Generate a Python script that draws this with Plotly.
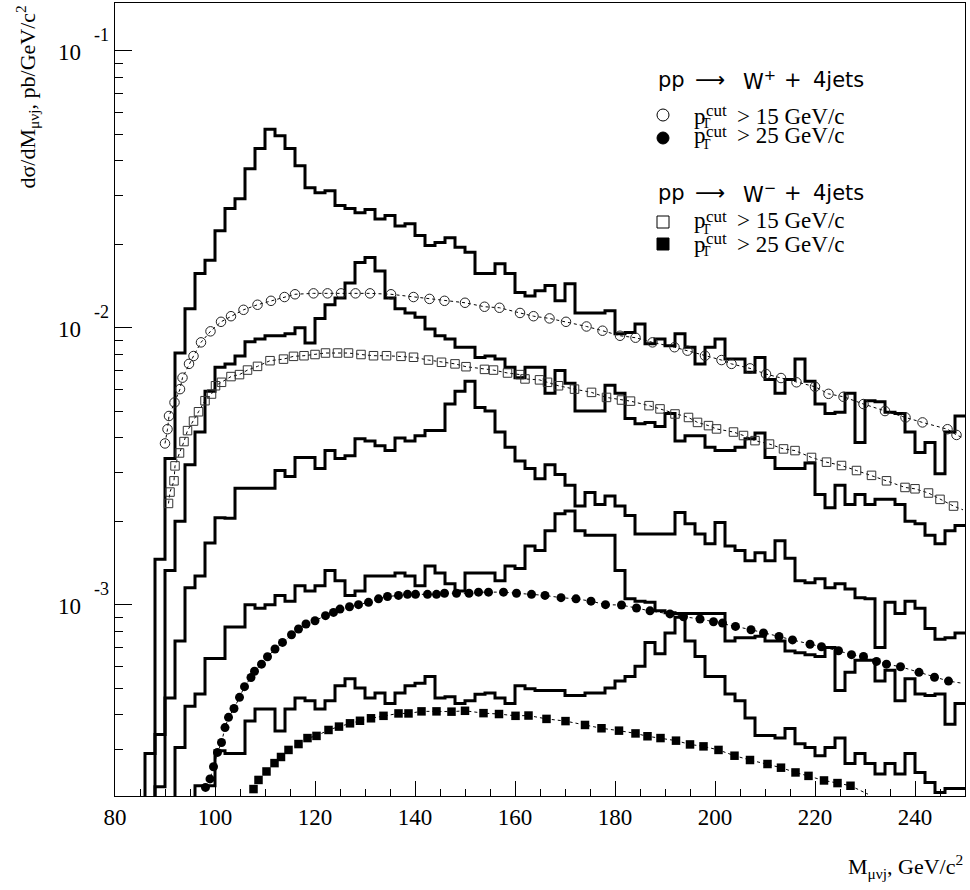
import numpy as np
import plotly.graph_objects as go

# ---------------- data ----------------
bin_edges = list(range(80, 252, 2))  # 2 GeV bins from 80 to 250

hist1 = [0, 0, 0, 2.9e-4, 1.46e-3, 3.37e-3, 8.1e-3, 1.17e-2, 1.57e-2, 1.75e-2,
         2.24e-2, 2.69e-2, 2.92e-2, 3.75e-2, 4.43e-2, 5.2e-2, 4.93e-2, 4.43e-2, 3.84e-2, 3.2e-2,
         3.07e-2, 3.12e-2, 2.76e-2, 2.69e-2, 2.6e-2, 2.67e-2, 2.47e-2, 2.54e-2, 2.33e-2, 2.37e-2,
         2.15e-2, 1.98e-2, 2.03e-2, 2.11e-2, 1.95e-2, 1.87e-2, 1.57e-2, 1.57e-2, 1.70e-2, 1.57e-2,
         1.34e-2, 1.30e-2, 1.36e-2, 1.42e-2, 1.25e-2, 1.44e-2, 1.13e-2, 1.13e-2, 1.13e-2, 1.15e-2,
         9.5e-3, 9.6e-3, 1.03e-2, 8.75e-3, 9.1e-3, 8.6e-3, 9.5e-3, 8.5e-3, 7.4e-3, 8.5e-3,
         9.1e-3, 7.7e-3, 7.7e-3, 6.9e-3, 7.8e-3, 6.5e-3, 5.8e-3, 6.5e-3, 7.7e-3, 6.4e-3,
         5.3e-3, 4.9e-3, 4.95e-3, 5.8e-3, 3.85e-3, 5.45e-3, 5.4e-3, 4.95e-3, 4.9e-3, 4.2e-3,
         3.54e-3, 3.85e-3, 2.97e-3, 4.2e-3, 4.8e-3]

hist2 = [0, 0, 0, 0, 2.2e-4, 1.33e-3, 2.0e-3, 3.2e-3, 4.2e-3, 5.9e-3,
         7.2e-3, 7.4e-3, 7.9e-3, 8.9e-3, 9.1e-3, 9.35e-3, 9.35e-3, 9.5e-3, 1.0e-2, 8.8e-3,
         1.08e-2, 1.21e-2, 1.28e-2, 1.45e-2, 1.72e-2, 1.79e-2, 1.6e-2, 1.28e-2, 1.17e-2, 1.13e-2,
         1.09e-2, 9.9e-3, 9.35e-3, 9.1e-3, 8.5e-3, 8.5e-3, 7.8e-3, 7.9e-3, 7.7e-3, 7.2e-3,
         6.6e-3, 7.2e-3, 7.2e-3, 5.8e-3, 7.0e-3, 6.3e-3, 5.0e-3, 5.0e-3, 5.0e-3, 6.2e-3,
         5.8e-3, 4.7e-3, 4.5e-3, 4.55e-3, 4.4e-3, 4.9e-3, 3.9e-3, 4.07e-3, 4.07e-3, 3.7e-3,
         3.6e-3, 3.6e-3, 3.7e-3, 3.97e-3, 4.17e-3, 3.4e-3, 3.1e-3, 3.1e-3, 3.1e-3, 3.25e-3,
         2.5e-3, 2.24e-3, 2.7e-3, 2.3e-3, 2.5e-3, 2.3e-3, 2.4e-3, 2.4e-3, 2.3e-3, 2.0e-3,
         1.96e-3, 1.78e-3, 1.66e-3, 1.85e-3, 1.93e-3]

hist3 = [0, 0, 0, 0, 3.4e-4, 4.6e-4, 7.4e-4, 1.15e-3, 1.27e-3, 1.67e-3,
         2.06e-3, 2.05e-3, 2.63e-3, 2.63e-3, 2.63e-3, 2.63e-3, 3.05e-3, 2.9e-3, 3.4e-3, 3.4e-3,
         3.1e-3, 3.6e-3, 3.37e-3, 3.45e-3, 3.97e-3, 3.9e-3, 3.75e-3, 3.6e-3, 4.0e-3, 3.9e-3,
         4.07e-3, 4.25e-3, 4.25e-3, 5.3e-3, 5.9e-3, 6.4e-3, 5.15e-3, 5.0e-3, 4.2e-3, 3.7e-3,
         3.3e-3, 3.1e-3, 2.85e-3, 3.2e-3, 2.95e-3, 2.7e-3, 2.27e-3, 2.54e-3, 2.3e-3, 2.47e-3,
         2.27e-3, 2.1e-3, 1.8e-3, 1.8e-3, 1.8e-3, 1.8e-3, 2.15e-3, 1.96e-3, 1.8e-3, 1.66e-3,
         1.98e-3, 1.63e-3, 1.57e-3, 1.44e-3, 1.54e-3, 1.44e-3, 1.7e-3, 1.47e-3, 1.22e-3, 1.2e-3,
         1.24e-3, 1.15e-3, 1.19e-3, 1.14e-3, 1.06e-3, 1.05e-3, 7.0e-4, 1.02e-3, 9.3e-4, 1.03e-3,
         9.7e-4, 8.2e-4, 7.5e-4, 7.6e-4, 7.9e-4]

hist4 = [0, 0, 0, 0, 0, 0, 3.05e-4, 4.3e-4, 4.76e-4, 6.4e-4,
         6.4e-4, 8.3e-4, 8.3e-4, 1.0e-3, 9.7e-4, 1.0e-3, 1.08e-3, 1.03e-3, 1.17e-3, 1.12e-3,
         1.17e-3, 1.33e-3, 1.22e-3, 1.08e-3, 1.12e-3, 1.27e-3, 1.27e-3, 1.27e-3, 1.3e-3, 1.27e-3,
         1.17e-3, 1.38e-3, 1.3e-3, 1.19e-3, 1.12e-3, 1.3e-3, 1.3e-3, 1.3e-3, 1.22e-3, 1.38e-3,
         1.35e-3, 1.63e-3, 1.57e-3, 1.85e-3, 2.13e-3, 2.18e-3, 1.85e-3, 1.78e-3, 1.78e-3, 1.78e-3,
         1.33e-3, 1.05e-3, 1.03e-3, 1.02e-3, 9.5e-4, 9.35e-4, 9.3e-4, 9.3e-4, 9.3e-4, 9.3e-4,
         9.3e-4, 7.4e-4, 7.6e-4, 7.6e-4, 7.7e-4, 7.4e-4, 7.4e-4, 6.8e-4, 6.7e-4, 6.6e-4,
         6.5e-4, 7.0e-4, 4.9e-4, 5.7e-4, 6.3e-4, 6.3e-4, 5.3e-4, 5.8e-4, 4.5e-4, 5.4e-4,
         4.76e-4, 4.7e-4, 4.76e-4, 3.7e-4, 4.4e-4]

hist5 = [0, 0, 0, 0, 0, 0, 0, 0, 2.22e-4, 2.22e-4,
         2.97e-4, 2.9e-4, 2.9e-4, 3.8e-4, 4.2e-4, 4.2e-4, 3.5e-4, 4.2e-4, 4.6e-4, 4.5e-4,
         4.2e-4, 4.5e-4, 5.1e-4, 5.4e-4, 5.0e-4, 4.6e-4, 4.8e-4, 4.4e-4, 4.8e-4, 5.1e-4,
         5.2e-4, 5.5e-4, 4.6e-4, 4.65e-4, 4.4e-4, 4.5e-4, 4.75e-4, 4.8e-4, 4.6e-4, 4.4e-4,
         5.1e-4, 4.97e-4, 4.9e-4, 4.9e-4, 4.9e-4, 4.7e-4, 4.7e-4, 4.8e-4, 4.8e-4, 5.0e-4,
         5.3e-4, 5.5e-4, 6.0e-4, 7.3e-4, 6.65e-4, 7.9e-4, 9.0e-4, 7.4e-4, 6.5e-4, 5.5e-4,
         5.5e-4, 4.76e-4, 4.5e-4, 3.9e-4, 3.37e-4, 3.37e-4, 3.3e-4, 3.57e-4, 3.15e-4, 3.05e-4,
         2.85e-4, 3.05e-4, 3.3e-4, 2.67e-4, 2.9e-4, 2.67e-4, 2.45e-4, 2.67e-4, 2.45e-4, 2.9e-4,
         2.48e-4, 2.28e-4, 2.1e-4, 2.17e-4, 2.17e-4]

# W+ , pT cut > 15 GeV/c (open circles)
wp15_x = [90.0, 90.5, 90.8, 91.9, 93.0, 93.5, 94.8, 95.7, 97.2, 99.1,
          101.2, 103.2, 105.7, 108.5, 111.2, 113.9, 116.0, 119.7, 122.5, 125.2,
          128.1, 131.0, 135.2, 139.7, 142.9, 145.9, 150.0, 153.9, 156.9, 161.0,
          163.7, 166.9, 170.2, 174.3, 177.5, 181.0, 184.1, 187.5, 191.9, 194.5,
          198.0, 201.3, 203.3, 207.0, 210.2, 213.2, 216.3, 220.0, 222.7, 225.7,
          229.7, 234.0, 238.1, 241.5, 246.5, 248.3]
wp15_y = [3.82e-3, 4.3e-3, 4.8e-3, 5.37e-3, 6.0e-3, 6.6e-3, 7.4e-3, 7.9e-3, 8.85e-3, 9.7e-3,
          1.05e-2, 1.1e-2, 1.16e-2, 1.21e-2, 1.25e-2, 1.29e-2, 1.32e-2, 1.33e-2, 1.33e-2, 1.33e-2,
          1.33e-2, 1.33e-2, 1.32e-2, 1.29e-2, 1.27e-2, 1.25e-2, 1.23e-2, 1.19e-2, 1.18e-2, 1.13e-2,
          1.1e-2, 1.08e-2, 1.05e-2, 1.01e-2, 9.75e-3, 9.35e-3, 9.2e-3, 8.85e-3, 8.5e-3, 8.26e-3,
          7.92e-3, 7.64e-3, 7.4e-3, 7.13e-3, 6.8e-3, 6.58e-3, 6.35e-3, 6.12e-3, 5.77e-3, 5.63e-3,
          5.3e-3, 5.0e-3, 4.74e-3, 4.55e-3, 4.3e-3, 4.1e-3]

# W+ , pT cut > 25 GeV/c (filled circles)
wp25_x = [98.1, 99.0, 99.7, 100.5, 101.3, 102.0, 102.7, 103.8, 104.9, 105.9,
          107.2, 107.9, 109.3, 110.5, 112.0, 113.5, 115.3, 116.7, 118.2, 120.0,
          122.1, 123.7, 125.0, 126.9, 128.7, 130.7, 132.7, 134.5, 136.7, 138.5,
          140.1, 142.5, 144.3, 145.9, 148.3, 150.8, 152.7, 154.7, 157.7, 160.3,
          163.3, 166.0, 169.2, 172.2, 175.2, 178.1, 181.3, 184.3, 187.0, 191.0,
          193.7, 197.0, 199.7, 201.5, 204.1, 207.2, 209.7, 212.8, 215.5, 219.0,
          221.3, 224.7, 227.3, 229.7, 232.3, 234.3, 237.1, 240.8, 243.9, 246.7]
wp25_y = [2.19e-4, 2.35e-4, 2.6e-4, 2.93e-4, 3.18e-4, 3.6e-4, 3.92e-4, 4.22e-4, 4.63e-4, 5.06e-4,
          5.46e-4, 5.75e-4, 6.1e-4, 6.49e-4, 6.92e-4, 7.31e-4, 7.79e-4, 8.17e-4, 8.52e-4, 8.75e-4,
          9.13e-4, 9.38e-4, 9.64e-4, 9.83e-4, 1.0e-3, 1.02e-3, 1.05e-3, 1.07e-3, 1.08e-3, 1.09e-3,
          1.09e-3, 1.09e-3, 1.09e-3, 1.1e-3, 1.1e-3, 1.1e-3, 1.11e-3, 1.11e-3, 1.11e-3, 1.1e-3,
          1.09e-3, 1.08e-3, 1.06e-3, 1.05e-3, 1.03e-3, 1.0e-3, 9.97e-4, 9.73e-4, 9.5e-4, 9.26e-4,
          9.05e-4, 8.88e-4, 8.68e-4, 8.58e-4, 8.35e-4, 8.12e-4, 7.9e-4, 7.68e-4, 7.46e-4, 7.2e-4,
          7.05e-4, 6.82e-4, 6.6e-4, 6.5e-4, 6.24e-4, 6.1e-4, 5.97e-4, 5.7e-4, 5.47e-4, 5.3e-4]

# W- , pT cut > 15 GeV/c (open squares)
wm15_x = [90.7, 91.0, 91.8, 92.0, 92.9, 93.8, 94.5, 95.7, 96.7, 98.0,
          99.3, 100.1, 101.3, 103.2, 104.9, 106.5, 108.5, 111.0, 113.7, 115.7,
          117.8, 120.0, 122.1, 124.5, 126.7, 129.2, 131.7, 134.3, 137.2, 139.7,
          142.7, 145.3, 148.0, 150.2, 153.9, 155.7, 158.5, 161.0, 162.0, 164.9,
          166.5, 168.7, 171.9, 175.3, 178.3, 181.3, 183.1, 186.8, 189.0, 192.0,
          194.7, 196.5, 198.7, 200.3, 203.7, 205.7, 208.0, 210.9, 213.7, 216.0,
          219.3, 222.3, 225.3, 228.3, 231.3, 234.3, 238.0, 240.0, 242.7, 245.0, 247.7]
wm15_y = [2.32e-3, 2.55e-3, 2.8e-3, 3.17e-3, 3.53e-3, 3.88e-3, 4.25e-3, 4.6e-3, 4.97e-3, 5.45e-3,
          5.76e-3, 6.17e-3, 6.35e-3, 6.66e-3, 6.77e-3, 7.03e-3, 7.25e-3, 7.6e-3, 7.7e-3, 7.88e-3,
          7.92e-3, 8.0e-3, 8.1e-3, 8.1e-3, 8.1e-3, 8.0e-3, 7.92e-3, 7.92e-3, 7.88e-3, 7.82e-3,
          7.64e-3, 7.5e-3, 7.4e-3, 7.23e-3, 7.07e-3, 7.03e-3, 6.86e-3, 6.77e-3, 6.53e-3, 6.48e-3,
          6.35e-3, 6.17e-3, 6.0e-3, 5.84e-3, 5.6e-3, 5.48e-3, 5.43e-3, 5.23e-3, 5.09e-3, 4.88e-3,
          4.74e-3, 4.55e-3, 4.43e-3, 4.31e-3, 4.2e-3, 4.08e-3, 3.91e-3, 3.8e-3, 3.65e-3, 3.6e-3,
          3.4e-3, 3.27e-3, 3.18e-3, 3.05e-3, 2.93e-3, 2.8e-3, 2.65e-3, 2.62e-3, 2.53e-3, 2.4e-3, 2.27e-3]

# W- , pT cut > 25 GeV/c (filled squares)
wm25_x = [107.7, 108.7, 110.3, 111.9, 113.2, 114.7, 116.7, 118.5, 120.3, 122.7,
          124.8, 127.0, 129.0, 131.2, 133.7, 136.7, 138.7, 141.3, 144.3, 147.3,
          150.0, 153.7, 156.8, 160.1, 162.7, 166.3, 170.1, 174.0, 177.3, 180.8,
          184.1, 186.5, 189.1, 192.2, 195.0, 197.7, 200.7, 203.9, 207.0, 210.5,
          213.2, 216.1, 218.7, 221.8, 224.5, 227.1]
wm25_y = [2.16e-4, 2.33e-4, 2.5e-4, 2.68e-4, 2.82e-4, 2.99e-4, 3.14e-4, 3.3e-4, 3.36e-4, 3.53e-4,
          3.63e-4, 3.73e-4, 3.81e-4, 3.89e-4, 3.97e-4, 4.05e-4, 4.05e-4, 4.12e-4, 4.12e-4, 4.11e-4,
          4.14e-4, 4.06e-4, 4.03e-4, 3.97e-4, 3.98e-4, 3.87e-4, 3.8e-4, 3.68e-4, 3.58e-4, 3.51e-4,
          3.43e-4, 3.35e-4, 3.3e-4, 3.23e-4, 3.13e-4, 3.08e-4, 2.99e-4, 2.85e-4, 2.75e-4, 2.66e-4,
          2.58e-4, 2.48e-4, 2.41e-4, 2.32e-4, 2.27e-4, 2.22e-4]

# end points of the dotted curves beyond the last marker
wp15_tail = (249.6, 4.0e-3)
wp25_tail = (249.6, 5.2e-4)
wm15_tail = (249.6, 2.2e-3)
wm25_tail = (230.6, 2.07e-4)

x_ticks = [80, 100, 120, 140, 160, 180, 200, 220, 240]
y_decades = [-1, -2, -3]

# ---------------- figure ----------------
W, H = 970, 890
L, R, T, B = 115, 5, 3, 94
PW, PH = W - L - R, H - T - B


def px2x(px):
    return (px - L) / PW


def py2y(py):
    return (H - B - py) / PH


fig = go.Figure()

edges = np.array(bin_edges, dtype=float)
for vals in [hist1, hist2, hist3, hist4, hist5]:
    v = np.array(vals, dtype=float)
    v = np.where(v > 0, v, 1e-7)
    xs = edges
    ys = np.append(v, v[-1])
    fig.add_trace(go.Scatter(x=xs, y=ys, mode="lines", line=dict(color="black", width=3, shape="hv"),
                             hoverinfo="skip"))

series = [
    (wp15_x, wp15_y, wp15_tail, dict(symbol="circle-open", size=9.5, color="#222", line=dict(width=1, color="#222"))),
    (wm15_x, wm15_y, wm15_tail, dict(symbol="square-open", size=8.5, color="#333", line=dict(width=1, color="#333"))),
    (wp25_x, wp25_y, wp25_tail, dict(symbol="circle", size=9, color="black")),
    (wm25_x, wm25_y, wm25_tail, dict(symbol="square", size=8.5, color="black")),
]
for sx, sy, tail, mk in series:
    lx = list(sx) + [tail[0]]
    ly = list(sy) + [tail[1]]
    fig.add_trace(go.Scatter(x=lx, y=ly, mode="lines", line=dict(color="black", width=1, dash="dot"),
                             hoverinfo="skip"))
    fig.add_trace(go.Scatter(x=sx, y=sy, mode="markers", marker=mk, hoverinfo="skip"))

serif = "Liberation Serif, Times New Roman, serif"
sans = "DejaVu Sans, Liberation Sans, sans-serif"

ann = []
# y tick labels 10^n
for e in y_decades:
    ann.append(dict(text="10", xref="paper", x=px2x(83), xanchor="right", yref="y", y=e, yanchor="middle",
                    yshift=-2, showarrow=False, font=dict(family=serif, size=23, color="black")))
    ann.append(dict(text=str(e), xref="paper", x=px2x(92), xanchor="left", yref="y", y=e, yanchor="middle",
                    yshift=16, showarrow=False, font=dict(family=serif, size=18, color="black")))

# axis titles
ann.append(dict(text="M<sub>μνj</sub>, GeV/c<sup>2</sup>", xref="paper", x=1.0, xanchor="right",
                yref="paper", y=py2y(866), yanchor="middle", showarrow=False,
                font=dict(family=serif, size=22, color="black")))
ann.append(dict(text="dσ/dM<sub>μνj</sub>, pb/GeV/c<sup>2</sup>", xref="paper", x=px2x(27), xanchor="center",
                yref="paper", y=py2y(4), yanchor="top", textangle=-90, showarrow=False,
                font=dict(family=serif, size=22, color="black")))

# legend headers
for yc, sign in [(80, "+"), (193, "−")]:
    tokens = [(656, "pp"), (693, "⟶"), (741, "W<sup>%s</sup>" % sign), (782, "+"), (811, "4jets")]
    for xl, t in tokens:
        ann.append(dict(text=t, xref="paper", x=px2x(xl), xanchor="left", yref="paper", y=py2y(yc),
                        yanchor="middle", showarrow=False, font=dict(family=sans, size=21, color="black")))

# legend entries
entries = [(116, "15"), (136, "25"), (221, "15"), (244, "25")]
for yc, cut in entries:
    ann.append(dict(text="p", xref="paper", x=px2x(692), xanchor="left", yref="paper", y=py2y(yc),
                    yanchor="middle", showarrow=False, font=dict(family=serif, size=23, color="black")))
    ann.append(dict(text="T", xref="paper", x=px2x(700), xanchor="left", yref="paper", y=py2y(yc + 8),
                    yanchor="middle", showarrow=False, font=dict(family=serif, size=14, color="black")))
    ann.append(dict(text="cut", xref="paper", x=px2x(704), xanchor="left", yref="paper", y=py2y(yc - 5),
                    yanchor="middle", showarrow=False, font=dict(family=serif, size=17, color="black")))
    ann.append(dict(text="> %s GeV/c" % cut, xref="paper", x=px2x(735), xanchor="left", yref="paper",
                    y=py2y(yc), yanchor="middle", showarrow=False,
                    font=dict(family=serif, size=23, color="black")))

# legend symbols
shapes = []
sym = [(115, "circle", "white"), (138, "circle", "black"), (222, "rect", "white"), (244, "rect", "black")]
for yc, kind, fill in sym:
    shapes.append(dict(type=kind, xref="paper", yref="paper", xsizemode="pixel", ysizemode="pixel",
                       xanchor=px2x(663), yanchor=py2y(yc), x0=-6, x1=6, y0=-6, y1=6,
                       line=dict(color="black", width=1), fillcolor=fill))

fig.update_layout(
    width=W, height=H, autosize=False,
    margin=dict(l=L, r=R, t=T, b=B),
    plot_bgcolor="white", paper_bgcolor="white",
    showlegend=False,
    font=dict(family=serif, color="black"),
    annotations=ann, shapes=shapes,
    xaxis=dict(range=[80, 250], showline=True, linecolor="black", linewidth=1, mirror=True,
               ticks="inside", ticklen=15, tickwidth=1, tickcolor="black",
               tickmode="array", tickvals=x_ticks, ticktext=[str(v) for v in x_ticks],
               tickfont=dict(family=serif, size=23, color="black"),
               showgrid=False, zeroline=False,
               minor=dict(ticks="inside", ticklen=7, dtick=5, tick0=80, tickcolor="black", tickwidth=1,
                          showgrid=False)),
    yaxis=dict(type="log", range=[-3.6906, -0.828], showline=True, linecolor="black", linewidth=1,
               mirror=True, ticks="inside", ticklen=17, tickwidth=1, tickcolor="black", dtick=1,
               showticklabels=False, showgrid=False, zeroline=False,
               minor=dict(ticks="inside", ticklen=8, dtick="D1", tickcolor="black", tickwidth=1,
                          showgrid=False)),
)

post = ("document.documentElement.style.margin='0';document.body.style.margin='0';"
        "document.body.style.padding='0';document.body.style.overflow='hidden';")
fig.write_html("out.html", post_script=post, config={"displayModeBar": False})
